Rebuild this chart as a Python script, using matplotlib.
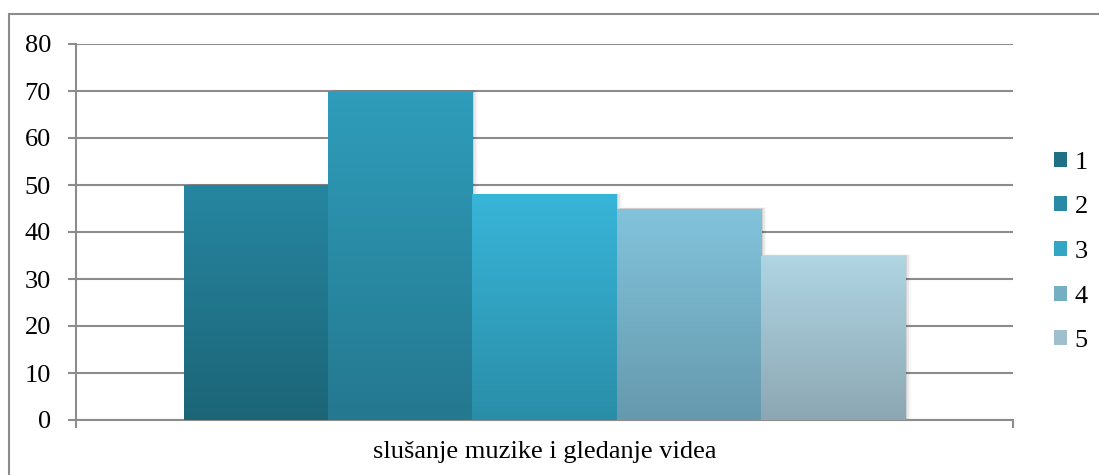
import numpy as np
import matplotlib
matplotlib.use("Agg")
import matplotlib.pyplot as plt
from matplotlib.colors import LinearSegmentedColormap
from matplotlib.patches import Patch, Rectangle

plt.rcParams.update({
    "font.family": ["Liberation Serif", "DejaVu Serif"],
    "font.size": 19,
})

category = "slušanje muzike i gledanje videa"
series = ["1", "2", "3", "4", "5"]
values = [50, 70, 48, 45, 35]
top_colors = ["#2686a1", "#2f9dbb", "#38b5d9", "#82c4dc", "#b0d5e3"]
bottom_colors = ["#1c6577", "#24788f", "#2a8ea8", "#6699ad", "#8ca7b3"]
mid_colors = ["#216f85", "#2a8aa6", "#33a6c6", "#75afc4", "#a0bfcc"]
yticks = np.arange(0, 81, 10)

W, H = 1099, 475
fig = plt.figure(figsize=(W / 100, H / 100), dpi=100)
fig.patch.set_facecolor("white")

# outer chart border (right/bottom sit outside the image)
fig.add_artist(Rectangle((9 / W, -0.1), 1.2, (H - 14) / H + 0.1,
                         transform=fig.transFigure, fill=False,
                         edgecolor="#8c8c8c", linewidth=1.5))

ax = fig.add_axes([76 / W, (H - 420) / H, (1013 - 76) / W, (420 - 44) / H])

n = len(series)
group_w = 721 / 937
bw = group_w / n
xs = -group_w / 2 + bw * (np.arange(n) + 0.5)

bars = ax.bar(xs, values, width=bw, color="none", edgecolor="none", zorder=3)

grad = np.linspace(0, 1, 256).reshape(-1, 1)
for i, rect in enumerate(bars):
    x0, w, h = rect.get_x(), rect.get_width(), rect.get_height()
    # soft shadow on the right side
    for k, a in enumerate([0.10, 0.06, 0.03]):
        off = 0.002 * (k + 1)
        ax.add_patch(Rectangle((x0 + off, 0), w, h + off * 40, facecolor="black",
                               alpha=a, edgecolor="none", zorder=2.5 - 0.01 * k))
    cmap = LinearSegmentedColormap.from_list(f"g{i}", [bottom_colors[i], top_colors[i]])
    im = ax.imshow(grad, cmap=cmap, extent=[x0, x0 + w, 0, h], origin="lower",
                   aspect="auto", zorder=3 + 0.01 * i)
    im.set_clip_path(rect)

ax.set_xlim(-0.5, 0.5)
ax.set_ylim(0, 80)
ax.set_yticks(yticks)
ax.set_xticks([-0.5, 0.5])
ax.set_xticklabels(["", ""])
ax.yaxis.grid(True, color="#8c8c8c", linewidth=1.5, zorder=1)
ax.set_axisbelow(True)
ax.tick_params(axis="y", length=6, width=1.5, color="#8c8c8c", pad=12, labelsize=19)
ax.tick_params(axis="x", length=6, width=1.5, color="#8c8c8c")
for s in ["top", "right"]:
    ax.spines[s].set_visible(False)
ax.spines["left"].set_color("#8c8c8c")
ax.spines["left"].set_linewidth(1.5)
ax.spines["bottom"].set_color("#8c8c8c")
ax.spines["bottom"].set_linewidth(1.5)

fig.text(544.5 / W, 1 - 452 / H, category, ha="center", va="center", fontsize=19)

handles = [Patch(facecolor=c, edgecolor="none") for c in mid_colors]
fig.legend(handles, series, loc="upper left", bbox_to_anchor=(1043 / W, 1 - 141 / H),
           frameon=False, fontsize=19, handlelength=0.5, handleheight=0.5,
           handletextpad=0.3, labelspacing=0.86, borderaxespad=0)

fig.savefig("out.png", dpi=100)
